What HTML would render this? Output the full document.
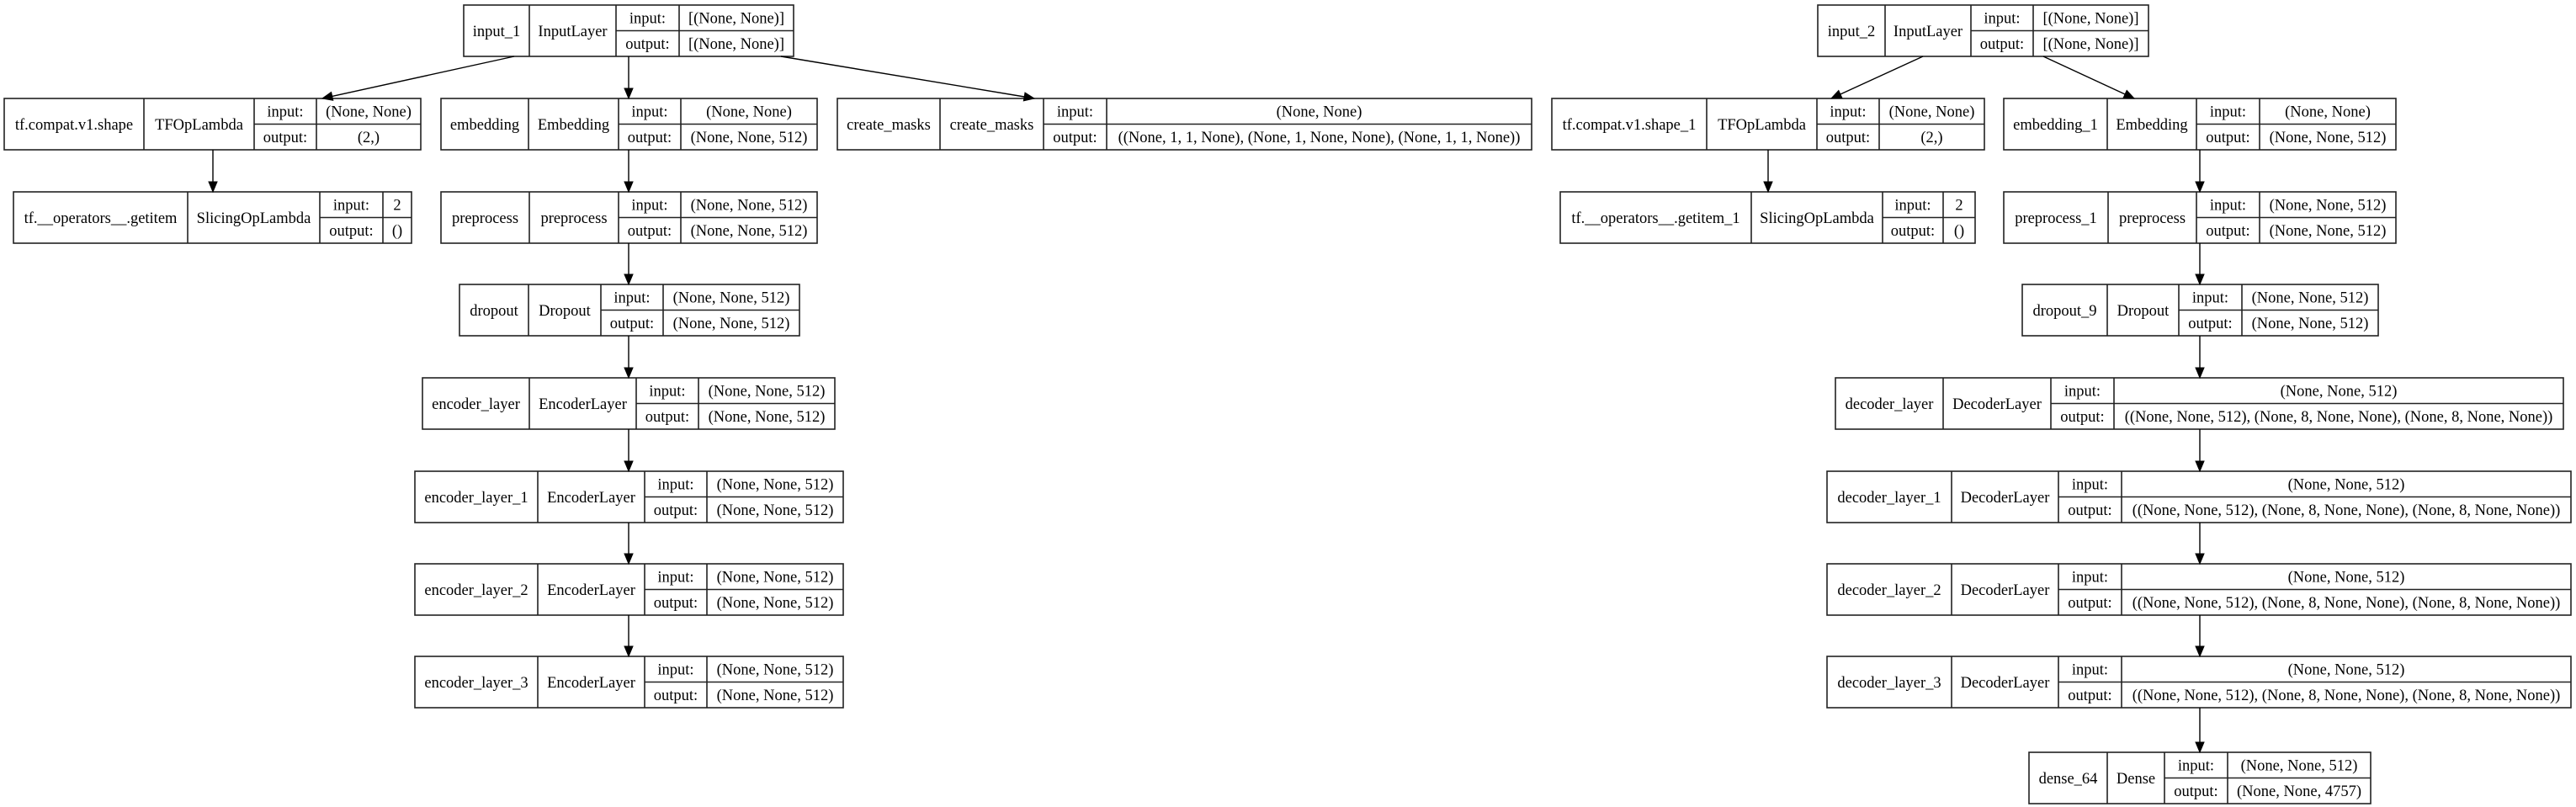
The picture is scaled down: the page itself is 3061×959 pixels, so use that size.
<!DOCTYPE html>
<html><head><meta charset="utf-8"><style>
html,body{margin:0;padding:0;background:#fff;}
svg{display:block;}
text{font-family:"Liberation Serif",serif;font-size:18.5px;fill:#000;text-anchor:middle;}
.b{fill:none;stroke:#222;stroke-width:1.6;}
.l{stroke:#000;stroke-width:1.4;fill:none;}
.a{fill:#000;stroke:#000;stroke-width:1;}
</style></head><body>
<svg width="3061" height="959" viewBox="0 0 3061 959" xmlns="http://www.w3.org/2000/svg">
<rect width="3061" height="959" fill="#fff"/>

<!-- input_1 -->
<g><rect class="b" x="551" y="6" width="392" height="61"/><path class="b" d="M629 6V67M732 6V67M807 6V67M732 36.5H943"/>
<text x="590" y="43">input_1</text><text x="680.5" y="43">InputLayer</text><text x="769.5" y="27.5">input:</text><text x="769.5" y="58">output:</text><text x="875" y="27.5">[(None, None)]</text><text x="875" y="58">[(None, None)]</text></g>

<!-- tf.compat.v1.shape -->
<g><rect class="b" x="5" y="117" width="495" height="61"/><path class="b" d="M171 117V178M302 117V178M376 117V178M302 147.5H500"/>
<text x="88" y="154">tf.compat.v1.shape</text><text x="236.5" y="154">TFOpLambda</text><text x="339" y="138.5">input:</text><text x="339" y="169">output:</text><text x="438" y="138.5">(None, None)</text><text x="438" y="169">(2,)</text></g>

<!-- getitem -->
<g><rect class="b" x="16" y="228" width="473" height="61"/><path class="b" d="M223 228V289M380 228V289M455 228V289M380 258.5H489"/>
<text x="119.5" y="265">tf.__operators__.getitem</text><text x="301.5" y="265">SlicingOpLambda</text><text x="417.5" y="249.5">input:</text><text x="417.5" y="280">output:</text><text x="472" y="249.5">2</text><text x="472" y="280">()</text></g>

<!-- embedding -->
<g><rect class="b" x="524" y="117" width="447" height="61"/><path class="b" d="M628 117V178M735 117V178M809 117V178M735 147.5H971"/>
<text x="576" y="154">embedding</text><text x="681.5" y="154">Embedding</text><text x="772" y="138.5">input:</text><text x="772" y="169">output:</text><text x="890" y="138.5">(None, None)</text><text x="890" y="169">(None, None, 512)</text></g>

<!-- preprocess -->
<g><rect class="b" x="524" y="228" width="447" height="61"/><path class="b" d="M629 228V289M735 228V289M809 228V289M735 258.5H971"/>
<text x="576.5" y="265">preprocess</text><text x="682" y="265">preprocess</text><text x="772" y="249.5">input:</text><text x="772" y="280">output:</text><text x="890" y="249.5">(None, None, 512)</text><text x="890" y="280">(None, None, 512)</text></g>

<!-- dropout -->
<g><rect class="b" x="546" y="338" width="404" height="61"/><path class="b" d="M628 338V399M714 338V399M788 338V399M714 368.5H950"/>
<text x="587" y="375">dropout</text><text x="671" y="375">Dropout</text><text x="751" y="359.5">input:</text><text x="751" y="390">output:</text><text x="869" y="359.5">(None, None, 512)</text><text x="869" y="390">(None, None, 512)</text></g>

<!-- encoder_layer -->
<g><rect class="b" x="502" y="449" width="490" height="61"/><path class="b" d="M629 449V510M756 449V510M830 449V510M756 479.5H992"/>
<text x="565.5" y="486">encoder_layer</text><text x="692.5" y="486">EncoderLayer</text><text x="793" y="470.5">input:</text><text x="793" y="501">output:</text><text x="911" y="470.5">(None, None, 512)</text><text x="911" y="501">(None, None, 512)</text></g>

<!-- encoder_layer_1 -->
<g><rect class="b" x="493" y="560" width="509" height="61"/><path class="b" d="M639 560V621M766 560V621M840 560V621M766 590.5H1002"/>
<text x="566" y="597">encoder_layer_1</text><text x="702.5" y="597">EncoderLayer</text><text x="803" y="581.5">input:</text><text x="803" y="612">output:</text><text x="921" y="581.5">(None, None, 512)</text><text x="921" y="612">(None, None, 512)</text></g>

<!-- encoder_layer_2 -->
<g><rect class="b" x="493" y="670" width="509" height="61"/><path class="b" d="M639 670V731M766 670V731M840 670V731M766 700.5H1002"/>
<text x="566" y="707">encoder_layer_2</text><text x="702.5" y="707">EncoderLayer</text><text x="803" y="691.5">input:</text><text x="803" y="722">output:</text><text x="921" y="691.5">(None, None, 512)</text><text x="921" y="722">(None, None, 512)</text></g>

<!-- encoder_layer_3 -->
<g><rect class="b" x="493" y="780" width="509" height="61"/><path class="b" d="M639 780V841M766 780V841M840 780V841M766 810.5H1002"/>
<text x="566" y="817">encoder_layer_3</text><text x="702.5" y="817">EncoderLayer</text><text x="803" y="801.5">input:</text><text x="803" y="832">output:</text><text x="921" y="801.5">(None, None, 512)</text><text x="921" y="832">(None, None, 512)</text></g>

<!-- create_masks -->
<g><rect class="b" x="995" y="117" width="825" height="61"/><path class="b" d="M1117 117V178M1240 117V178M1315 117V178M1240 147.5H1820"/>
<text x="1056" y="154">create_masks</text><text x="1178.5" y="154">create_masks</text><text x="1277.5" y="138.5">input:</text><text x="1277.5" y="169">output:</text><text x="1567.5" y="138.5">(None, None)</text><text x="1567.5" y="169">((None, 1, 1, None), (None, 1, None, None), (None, 1, 1, None))</text></g>

<!-- input_2 -->
<g><rect class="b" x="2160" y="6" width="393" height="61"/><path class="b" d="M2240 6V67M2342 6V67M2416 6V67M2342 36.5H2553"/>
<text x="2200" y="43">input_2</text><text x="2291" y="43">InputLayer</text><text x="2379" y="27.5">input:</text><text x="2379" y="58">output:</text><text x="2484.5" y="27.5">[(None, None)]</text><text x="2484.5" y="58">[(None, None)]</text></g>

<!-- tf.compat.v1.shape_1 -->
<g><rect class="b" x="1844" y="117" width="514" height="61"/><path class="b" d="M2028 117V178M2159 117V178M2233 117V178M2159 147.5H2358"/>
<text x="1936" y="154">tf.compat.v1.shape_1</text><text x="2093.5" y="154">TFOpLambda</text><text x="2196" y="138.5">input:</text><text x="2196" y="169">output:</text><text x="2295.5" y="138.5">(None, None)</text><text x="2295.5" y="169">(2,)</text></g>

<!-- getitem_1 -->
<g><rect class="b" x="1854" y="228" width="493" height="61"/><path class="b" d="M2081 228V289M2237 228V289M2309 228V289M2237 258.5H2347"/>
<text x="1967.5" y="265">tf.__operators__.getitem_1</text><text x="2159" y="265">SlicingOpLambda</text><text x="2273" y="249.5">input:</text><text x="2273" y="280">output:</text><text x="2328" y="249.5">2</text><text x="2328" y="280">()</text></g>

<!-- embedding_1 -->
<g><rect class="b" x="2381" y="117" width="466" height="61"/><path class="b" d="M2504 117V178M2610 117V178M2685 117V178M2610 147.5H2847"/>
<text x="2442.5" y="154">embedding_1</text><text x="2557" y="154">Embedding</text><text x="2647.5" y="138.5">input:</text><text x="2647.5" y="169">output:</text><text x="2766" y="138.5">(None, None)</text><text x="2766" y="169">(None, None, 512)</text></g>

<!-- preprocess_1 -->
<g><rect class="b" x="2381" y="228" width="466" height="61"/><path class="b" d="M2505 228V289M2610 228V289M2685 228V289M2610 258.5H2847"/>
<text x="2443" y="265">preprocess_1</text><text x="2557.5" y="265">preprocess</text><text x="2647.5" y="249.5">input:</text><text x="2647.5" y="280">output:</text><text x="2766" y="249.5">(None, None, 512)</text><text x="2766" y="280">(None, None, 512)</text></g>

<!-- dropout_9 -->
<g><rect class="b" x="2403" y="338" width="423" height="61"/><path class="b" d="M2504 338V399M2589 338V399M2664 338V399M2589 368.5H2826"/>
<text x="2453.5" y="375">dropout_9</text><text x="2546.5" y="375">Dropout</text><text x="2626.5" y="359.5">input:</text><text x="2626.5" y="390">output:</text><text x="2745" y="359.5">(None, None, 512)</text><text x="2745" y="390">(None, None, 512)</text></g>

<!-- decoder_layer -->
<g><rect class="b" x="2181" y="449" width="865" height="61"/><path class="b" d="M2309 449V510M2437 449V510M2512 449V510M2437 479.5H3046"/>
<text x="2245" y="486">decoder_layer</text><text x="2373" y="486">DecoderLayer</text><text x="2474.5" y="470.5">input:</text><text x="2474.5" y="501">output:</text><text x="2779" y="470.5">(None, None, 512)</text><text x="2779" y="501">((None, None, 512), (None, 8, None, None), (None, 8, None, None))</text></g>

<!-- decoder_layer_1 -->
<g><rect class="b" x="2171" y="560" width="884" height="61"/><path class="b" d="M2319 560V621M2446 560V621M2521 560V621M2446 590.5H3055"/>
<text x="2245" y="597">decoder_layer_1</text><text x="2382.5" y="597">DecoderLayer</text><text x="2483.5" y="581.5">input:</text><text x="2483.5" y="612">output:</text><text x="2788" y="581.5">(None, None, 512)</text><text x="2788" y="612">((None, None, 512), (None, 8, None, None), (None, 8, None, None))</text></g>

<!-- decoder_layer_2 -->
<g><rect class="b" x="2171" y="670" width="884" height="61"/><path class="b" d="M2319 670V731M2446 670V731M2521 670V731M2446 700.5H3055"/>
<text x="2245" y="707">decoder_layer_2</text><text x="2382.5" y="707">DecoderLayer</text><text x="2483.5" y="691.5">input:</text><text x="2483.5" y="722">output:</text><text x="2788" y="691.5">(None, None, 512)</text><text x="2788" y="722">((None, None, 512), (None, 8, None, None), (None, 8, None, None))</text></g>

<!-- decoder_layer_3 -->
<g><rect class="b" x="2171" y="780" width="884" height="61"/><path class="b" d="M2319 780V841M2446 780V841M2521 780V841M2446 810.5H3055"/>
<text x="2245" y="817">decoder_layer_3</text><text x="2382.5" y="817">DecoderLayer</text><text x="2483.5" y="801.5">input:</text><text x="2483.5" y="832">output:</text><text x="2788" y="801.5">(None, None, 512)</text><text x="2788" y="832">((None, None, 512), (None, 8, None, None), (None, 8, None, None))</text></g>

<!-- dense_64 -->
<g><rect class="b" x="2411" y="894" width="406" height="61"/><path class="b" d="M2504 894V955M2572 894V955M2647 894V955M2572 924.5H2817"/>
<text x="2457.5" y="931">dense_64</text><text x="2538" y="931">Dense</text><text x="2609.5" y="915.5">input:</text><text x="2609.5" y="946">output:</text><text x="2732" y="915.5">(None, None, 512)</text><text x="2732" y="946">(None, None, 4757)</text></g>

<!-- edges -->
<path class="l" d="M611 67L394.7 114.4"/><polygon class="a" points="383,117 395.8,119.3 393.6,109.5"/>
<path class="l" d="M928 67L1217.2 115"/><polygon class="a" points="1229,117 1216.3,119.9 1218,110.1"/>
<path class="l" d="M2285 67L2186.9 112"/><polygon class="a" points="2176,117 2189,116.6 2184.8,107.5"/>
<path class="l" d="M2428 67L2525.1 112"/><polygon class="a" points="2536,117 2523,116.5 2527.2,107.4"/>

<path class="l" d="M747 67V105M253 178V216M747 178V216M747 289V326M747 399V437M747 510V548M747 621V658M747 731V768"/>
<polygon class="a" points="742,105 752,105 747,117"/>
<polygon class="a" points="248,216 258,216 253,228"/>
<polygon class="a" points="742,216 752,216 747,228"/>
<polygon class="a" points="742,326 752,326 747,338"/>
<polygon class="a" points="742,437 752,437 747,449"/>
<polygon class="a" points="742,548 752,548 747,560"/>
<polygon class="a" points="742,658 752,658 747,670"/>
<polygon class="a" points="742,768 752,768 747,780"/>

<path class="l" d="M2101 178V216M2614 178V216M2614 289V326M2614 399V437M2614 510V548M2614 621V658M2614 731V768M2614 841V882"/>
<polygon class="a" points="2096,216 2106,216 2101,228"/>
<polygon class="a" points="2609,216 2619,216 2614,228"/>
<polygon class="a" points="2609,326 2619,326 2614,338"/>
<polygon class="a" points="2609,437 2619,437 2614,449"/>
<polygon class="a" points="2609,548 2619,548 2614,560"/>
<polygon class="a" points="2609,658 2619,658 2614,670"/>
<polygon class="a" points="2609,768 2619,768 2614,780"/>
<polygon class="a" points="2609,882 2619,882 2614,894"/>
</svg>
</body></html>
